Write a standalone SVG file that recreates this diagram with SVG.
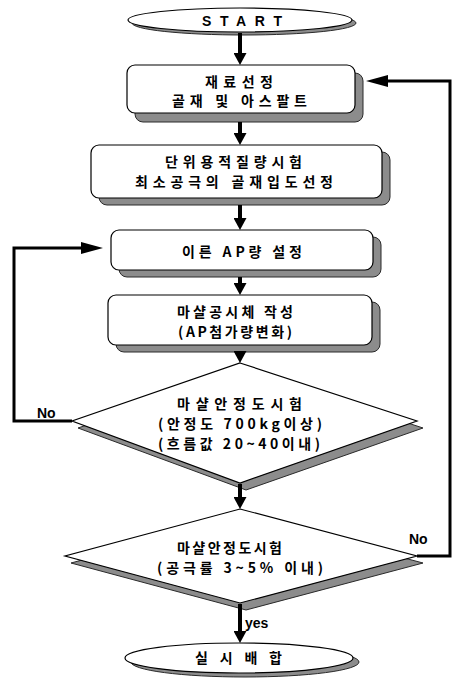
<svg xmlns="http://www.w3.org/2000/svg" width="453" height="681" viewBox="0 0 453 681">
<style>
.shadow{fill:#8c8c8c;stroke:#2a2a2a;stroke-width:1}
.shape{fill:#fff;stroke:#000;stroke-width:1.2}
.t{font-family:"Liberation Sans","Noto Sans CJK KR",sans-serif;font-weight:bold;font-size:14px;fill:#000}
.k{font-family:"Noto Sans CJK KR","Liberation Sans",sans-serif;font-weight:bold;font-size:14px;fill:#000}
.conn{fill:none;stroke:#000;stroke-width:4}
.loop{fill:none;stroke:#000;stroke-width:3}
</style>
<defs>
<marker id="av" markerUnits="userSpaceOnUse" markerWidth="12" markerHeight="13" refX="6" refY="6.5" orient="auto" viewBox="0 0 12 13">
<path d="M0,0 L12,6.5 L0,13 z" fill="#000"/>
</marker>
<marker id="ah" markerUnits="userSpaceOnUse" markerWidth="22" markerHeight="12" refX="10" refY="6" orient="auto" viewBox="0 0 22 12">
<path d="M0,0 L22,6 L0,12 z" fill="#000"/>
</marker>
</defs>

<g id="start">
<ellipse class="shadow" cx="244" cy="23" rx="112" ry="12"/>
<ellipse class="shape" cx="240" cy="20" rx="112" ry="12"/>
<text class="t" x="202" y="26" font-size="16" textLength="80" lengthAdjust="spacing">START</text>
</g>

<g id="box1">
<rect class="shadow" x="135" y="73" width="228" height="49" rx="8"/>
<rect class="shape" x="127" y="65" width="228" height="48" rx="8"/>
<text class="k" x="205" y="87" textLength="68" lengthAdjust="spacing">재료선정</text>
<text class="k" x="172" y="105.5" textLength="135" lengthAdjust="spacing">골재 및 아스팔트</text>
</g>

<g id="box2">
<rect class="shadow" x="99" y="152" width="291" height="53" rx="8"/>
<rect class="shape" x="91" y="145" width="291" height="53" rx="8"/>
<text class="k" x="165" y="167" textLength="137" lengthAdjust="spacing">단위용적질량시험</text>
<text class="k" x="135" y="187" textLength="198" lengthAdjust="spacing">최소공극의 골재입도선정</text>
</g>

<g id="box3">
<rect class="shadow" x="119" y="237" width="262" height="40" rx="8"/>
<rect class="shape" x="111" y="230" width="262" height="40" rx="8"/>
<text class="k" x="182" y="257" textLength="120" lengthAdjust="spacing">이른 AP량 설정</text>
</g>

<g id="box4">
<rect class="shadow" x="116" y="302" width="264" height="50" rx="8"/>
<rect class="shape" x="108" y="295" width="264" height="50" rx="8"/>
<text class="k" x="177" y="317" textLength="116" lengthAdjust="spacing">마샬공시체 작성</text>
<text class="k" x="178" y="337" textLength="114" lengthAdjust="spacing">(AP첨가량변화)</text>
</g>

<g id="decision1">
<polygon class="shadow" points="246,370 423,428 246,490 78,428"/>
<polygon class="shape" points="240,363 417,421 240,483 72,421"/>
<text class="k" x="177" y="409" font-size="13" textLength="125" lengthAdjust="spacing">마샬안정도시험</text>
<text class="k" x="158" y="429" font-size="13" textLength="164" lengthAdjust="spacing">(안정도 700kg이상)</text>
<text class="k" x="158" y="449" font-size="13" textLength="162" lengthAdjust="spacing">(흐름값 20~40이내)</text>
</g>

<g id="decision2">
<polygon class="shadow" points="246,516 423,563 246,610 71,563"/>
<polygon class="shape" points="240,509 417,556 240,603 65,556"/>
<text class="k" x="177" y="553" textLength="105" lengthAdjust="spacing">마샬안정도시험</text>
<text class="k" x="157" y="573" textLength="166" lengthAdjust="spacing">(공극률 3~5% 이내)</text>
</g>

<g id="end">
<ellipse class="shadow" cx="245" cy="662" rx="114" ry="15"/>
<ellipse class="shape" cx="239" cy="658" rx="114" ry="15"/>
<text class="k" x="195" y="663" textLength="87" lengthAdjust="spacing">실 시 배 합</text>
</g>

<g id="connectors">
<line class="conn" x1="240" y1="33" x2="240" y2="59" marker-end="url(#av)"/>
<line class="conn" x1="240" y1="122" x2="240" y2="139" marker-end="url(#av)"/>
<line class="conn" x1="240" y1="205" x2="240" y2="224" marker-end="url(#av)"/>
<line class="conn" x1="240" y1="277" x2="240" y2="289" marker-end="url(#av)"/>
<line class="conn" x1="240" y1="352" x2="240" y2="357" marker-end="url(#av)"/>
<line class="conn" x1="240" y1="484" x2="240" y2="503" marker-end="url(#av)"/>
<line class="conn" x1="240" y1="604" x2="240" y2="637" marker-end="url(#av)"/>
<path class="loop" d="M72,421 H14 V248 H91" marker-end="url(#ah)"/>
<path class="loop" d="M417,556 H450 V81 H378" marker-end="url(#ah)"/>
<text class="t" x="37" y="418" font-size="14">No</text>
<text class="t" x="409" y="544" font-size="14">No</text>
<text class="t" x="245" y="628" font-size="14">yes</text>
</g>
</svg>
